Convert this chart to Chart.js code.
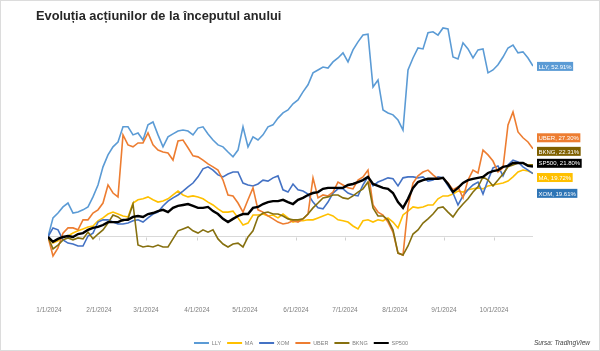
<!DOCTYPE html>
<html>
<head>
<meta charset="utf-8">
<script src="https://cdn.jsdelivr.net/npm/chart.js@4/dist/chart.umd.min.js"></script>
<style>
  html, body { margin: 0; padding: 0; background: #fff; }
</style>
</head>
<body>
<canvas id="chart" width="600" height="351"></canvas>
<script>
// Performance since the start of the year, in %, one point every few trading days
const LLY = [0, 5.9, 7.4, 9.3, 10.5, 7.4, 7.7, 8.4, 9.3, 12.4,
  16.1, 21.7, 25.4, 27.9, 29.4, 34.1, 34.1, 31.6, 32.2, 30.0,
  34.7, 35.6, 31.6, 27.9, 31.0, 31.9, 32.8, 33.1, 32.8, 31.6,
  33.7, 34.1, 31.9, 30.0, 28.5, 27.9, 26.3, 24.8, 26.9, 34.1,
  27.9, 31.0, 30.0, 31.6, 34.1, 34.7, 36.8, 38.4, 39.3, 41.2,
  42.4, 44.9, 47.1, 50.8, 51.7, 52.6, 52.3, 54.2, 55.4, 57.0,
  54.2, 57.9, 60.4, 62.5, 62.8, 46.4, 48.6, 39.3, 38.4, 37.8,
  36.2, 33.1, 51.7, 55.4, 58.5, 58.2, 63.2, 63.5, 62.5, 64.7,
  64.4, 55.7, 55.1, 60.1, 58.2, 55.4, 57.9, 58.2, 50.8, 51.7,
  53.3, 55.7, 58.5, 59.4, 57.0, 57.3, 55.4, 52.91];

const MA = [0, -1.9, -1.2, 0, 0.3, 1.2, 1.9, 2.5, 3.1, 3.4,
  5.0, 5.9, 7.1, 7.7, 7.1, 6.5, 6.2, 10.5, 11.5, 11.8,
  12.4, 11.5, 10.8, 11.1, 11.8, 13.0, 14.2, 13.0, 12.4, 12.7,
  12.4, 11.8, 10.8, 9.9, 8.7, 7.7, 7.7, 8.0, 5.9, 3.7,
  4.3, 6.8, 6.8, 7.1, 6.5, 6.8, 5.9, 7.1, 5.9, 4.6,
  5.0, 5.0, 5.3, 5.3, 5.9, 6.5, 7.1, 6.5, 5.3, 5.0,
  4.6, 3.4, 2.5, 5.0, 5.3, 4.6, 5.3, 5.0, 5.9, 4.6,
  2.8, 6.8, 8.0, 9.3, 9.0, 9.3, 9.9, 9.9, 11.8, 12.7,
  12.7, 13.3, 14.2, 13.9, 14.6, 14.9, 15.2, 14.9, 15.8, 16.1,
  16.4, 16.7, 17.3, 18.6, 20.1, 20.7, 20.4, 19.72];

const XOM = [0, 2.8, 2.2, -0.9, -1.9, -2.2, -2.8, -2.8, 0.3, 1.2,
  4.6, 5.3, 5.3, 4.6, 4.0, 4.0, 4.3, 5.0, 5.3, 4.6,
  5.9, 7.1, 7.7, 9.6, 11.1, 12.1, 13.0, 14.2, 15.5, 16.7,
  18.6, 21.1, 21.7, 20.7, 19.2, 18.6, 19.5, 20.1, 20.1, 16.7,
  16.1, 15.8, 16.4, 17.6, 17.3, 18.3, 18.9, 14.6, 13.9, 16.4,
  14.6, 14.2, 13.3, 10.8, 9.0, 8.7, 10.8, 13.6, 14.9, 14.9,
  13.6, 13.0, 12.7, 16.1, 18.6, 15.8, 17.0, 17.6, 18.3, 18.0,
  15.8, 18.3, 18.6, 18.6, 18.3, 18.6, 17.3, 17.6, 18.6, 18.3,
  15.8, 13.6, 9.9, 12.7, 14.6, 16.1, 17.0, 13.3, 17.6, 21.4,
  22.0, 18.9, 22.3, 23.8, 23.2, 21.7, 20.7, 19.61];

const UBER = [0, -5.9, -3.4, 1.2, 2.8, 2.8, 2.2, 5.3, 5.3, 7.4,
  8.4, 10.5, 16.1, 13.6, 12.4, 31.6, 28.5, 27.9, 29.1, 29.1,
  32.2, 28.5, 26.9, 26.3, 26.0, 23.8, 29.7, 30.0, 27.6, 25.1,
  24.8, 23.8, 22.6, 21.7, 20.7, 17.6, 13.0, 12.7, 10.5, 7.7,
  11.5, 15.2, 8.4, 7.7, 6.5, 5.6, 4.6, 4.0, 4.3, 5.0,
  4.6, 5.6, 7.1, 18.3, 12.1, 13.0, 12.7, 13.9, 17.0, 16.1,
  15.2, 14.9, 17.6, 18.6, 20.7, 9.9, 7.7, 6.8, 4.6, 1.5,
  -5.0, -5.6, 9.3, 16.7, 18.9, 20.1, 20.7, 19.2, 18.0, 18.3,
  16.7, 14.6, 15.5, 12.1, 17.6, 20.7, 19.8, 26.9, 25.4, 23.5,
  20.1, 21.4, 34.7, 38.7, 32.5, 30.7, 29.4, 27.30];

const BKNG = [0, -3.7, -2.5, -0.9, -0.3, -0.9, -0.3, -0.6, 1.5, -0.6,
  0.9, 2.2, 4.3, 6.8, 6.2, 5.0, 5.6, 10.2, -2.5, -3.1,
  -2.8, -3.1, -2.5, -3.1, -3.1, -0.6, 1.9, 2.5, 3.1, 1.9,
  1.2, 2.2, 1.5, 2.2, -0.6, -2.2, -3.1, -2.2, -1.9, -3.1,
  0, 1.9, 6.2, 7.4, 7.7, 7.1, 7.1, 6.5, 5.6, 5.3,
  5.3, 5.6, 7.1, 9.0, 10.5, 12.1, 12.4, 13.0, 13.0, 12.1,
  11.8, 12.7, 13.9, 14.9, 17.0, 9.0, 6.5, 6.5, 5.3, 2.2,
  -5.0, -5.6, -2.8, 0.9, 2.2, 4.3, 5.6, 7.1, 9.0, 9.3,
  7.7, 6.2, 8.4, 10.2, 11.8, 13.9, 15.5, 18.6, 17.6, 15.8,
  17.6, 19.5, 21.7, 22.3, 22.9, 22.9, 22.3, 22.31];

const SP500 = [0, -1.5, -0.6, 0, 0.3, 0, 0.9, 1.2, 2.2, 2.8,
  3.1, 3.7, 4.6, 4.6, 4.6, 5.3, 5.3, 6.2, 6.5, 6.2,
  7.1, 7.4, 8.0, 8.4, 7.7, 9.0, 9.6, 9.9, 10.2, 9.6,
  9.0, 9.0, 9.3, 8.0, 7.1, 5.6, 4.6, 5.6, 6.5, 7.1,
  7.1, 9.0, 9.3, 10.2, 10.8, 11.1, 11.1, 11.5, 10.8, 10.2,
  11.5, 12.1, 13.0, 13.6, 13.9, 14.9, 15.2, 15.2, 15.2, 15.2,
  16.1, 16.4, 17.0, 17.6, 18.6, 16.4, 15.8, 15.2, 14.9, 13.6,
  10.8, 9.0, 11.8, 15.2, 17.0, 17.6, 18.0, 18.0, 18.0, 18.3,
  16.4, 13.9, 15.2, 16.7, 17.6, 18.0, 18.3, 18.6, 19.8, 20.4,
  20.7, 21.7, 22.0, 22.9, 22.9, 22.9, 22.0, 21.80];

// month labels and the sample index each one sits on
const TICK_LABELS = ['1/1/2024', '2/1/2024', '3/1/2024', '4/1/2024', '5/1/2024',
  '6/1/2024', '7/1/2024', '8/1/2024', '9/1/2024', '10/1/2024'];
const TICK_AT = [0.2, 10.2, 19.6, 29.8, 39.4, 49.6, 59.4, 69.4, 79.2, 89.2];

// end-of-line tags (text and the y value each tag is centred on)
const END_TEXT = ['LLY, 52.91%', 'UBER, 27.30%', 'BKNG, 22.31%', 'SP500, 21.80%', 'MA, 19.72%', 'XOM, 19.61%'];
const END_AT = [52.8, 30.7, 26.5, 22.8, 18.4, 13.5];

const FONT = "'Liberation Sans', Arial, sans-serif";
const SERIES = [
  { label: 'LLY',   data: LLY,   color: '#5b9bd5', width: 1.6 },
  { label: 'MA',    data: MA,    color: '#ffc000', width: 1.6 },
  { label: 'XOM',   data: XOM,   color: '#4472c4', width: 1.6 },
  { label: 'UBER',  data: UBER,  color: '#ed7d31', width: 1.6 },
  { label: 'BKNG',  data: BKNG,  color: '#86700f', width: 1.6 },
  { label: 'SP500', data: SP500, color: '#000000', width: 2.4 },
];
const END_BG = ['#5b9bd5', '#ed7d31', '#7f6000', '#000000', '#ffc000', '#2e75b6'];

const datasets = SERIES.map((s, i) => ({
  label: s.label,
  data: s.data.map((v, k) => ({ x: k, y: v })),
  borderColor: s.color,
  backgroundColor: s.color,
  borderWidth: s.width,
  pointRadius: 0,
  tension: 0,
  order: SERIES.length - i,   // later series on top, like the original
}));

// white background + thin frame, small month ticks on the zero line
const frame = {
  id: 'frame',
  beforeDraw(chart) {
    const { ctx, width, height } = chart;
    ctx.save();
    ctx.fillStyle = '#fff';
    ctx.fillRect(0, 0, width, height);
    ctx.strokeStyle = '#dcdcdc';
    ctx.lineWidth = 1;
    ctx.strokeRect(0.5, 0.5, width - 1, height - 1);
    ctx.restore();
  },
  beforeDatasetsDraw(chart) {
    const { ctx, scales: { x, y } } = chart;
    const y0 = Math.round(y.getPixelForValue(0)) + 0.5;
    ctx.save();
    ctx.strokeStyle = '#d0d0d0';
    ctx.lineWidth = 1;
    TICK_AT.forEach(v => {
      const px = Math.round(x.getPixelForValue(v)) + 0.5;
      ctx.beginPath();
      ctx.moveTo(px, y0);
      ctx.lineTo(px, y0 + 3);
      ctx.stroke();
    });
    ctx.restore();
  },
  afterDraw(chart) {
    const { ctx } = chart;
    ctx.save();
    ctx.font = `italic 6.5px ${FONT}`;
    ctx.fillStyle = '#404040';
    ctx.textAlign = 'right';
    ctx.textBaseline = 'middle';
    ctx.fillText('Sursa: TradingView', 590, 343);
    ctx.restore();
  },
};

const endLabels = {
  id: 'endLabels',
  afterDatasetsDraw(chart) {
    const { ctx, chartArea, scales: { y } } = chart;
    ctx.save();
    ctx.font = `6px ${FONT}`;
    ctx.textBaseline = 'middle';
    END_TEXT.forEach((t, i) => {
      const cy = y.getPixelForValue(END_AT[i]);
      const w = ctx.measureText(t).width + 3;
      const bx = chartArea.right + 4;
      ctx.fillStyle = END_BG[i];
      ctx.fillRect(bx, cy - 4.5, w, 9);
      ctx.fillStyle = '#fff';
      ctx.fillText(t, bx + 1.5, cy + 0.5);
    });
    ctx.restore();
  },
};

new Chart(document.getElementById('chart').getContext('2d'), {
  type: 'line',
  data: { datasets },
  plugins: [frame, endLabels],
  options: {
    responsive: false,
    animation: false,
    devicePixelRatio: 1,
    layout: { padding: { left: 36, right: 34, top: 0, bottom: -4.75 } },
    plugins: {
      title: {
        display: true,
        text: 'Evoluția acțiunilor de la începutul anului',
        align: 'start',
        color: '#262626',
        font: { family: FONT, size: 12.8, weight: 'bold' },
        padding: { top: 8.6, bottom: 0.44 },
      },
      legend: {
        position: 'bottom',
        labels: {
          boxWidth: 15,
          boxHeight: 2,
          padding: 6,
          color: '#7f7f7f',
          font: { family: FONT, size: 5.5 },
          sort: (a, b) => a.datasetIndex - b.datasetIndex,
          generateLabels: (chart) =>
            Chart.defaults.plugins.legend.labels.generateLabels(chart)
              .map(l => ({ ...l, lineWidth: 0 })),
        },
      },
      tooltip: { enabled: false },
    },
    scales: {
      x: {
        type: 'linear',
        min: 0,
        max: 97,
        // hidden grid; the tick length only spaces the month labels down
        grid: { display: false, drawTicks: true, tickLength: 43.3 },
        border: { display: false },
        afterBuildTicks: (axis) => { axis.ticks = TICK_AT.map(v => ({ value: v })); },
        afterFit: (axis) => { axis.height = 71.45; },
        ticks: {
          autoSkip: false,
          maxRotation: 0,
          padding: 0,
          color: '#808080',
          font: { family: FONT, size: 6.5 },
          callback: (v, i) => TICK_LABELS[i],
        },
      },
      y: {
        min: -8,
        max: 65.8,
        afterFit: (axis) => { axis.width = 12; },
        border: { display: false },
        ticks: { display: false, stepSize: 10 },
        grid: {
          drawTicks: false,
          color: (c) => (c.tick && c.tick.value === 0 ? '#d9d9d9' : 'rgba(0,0,0,0)'),
        },
      },
      y2: {
        position: 'right',
        afterFit: (axis) => { axis.width = 33; },
        border: { display: false },
        ticks: { display: false },
        grid: { display: false },
      },
    },
  },
});
</script>
</body>
</html>
